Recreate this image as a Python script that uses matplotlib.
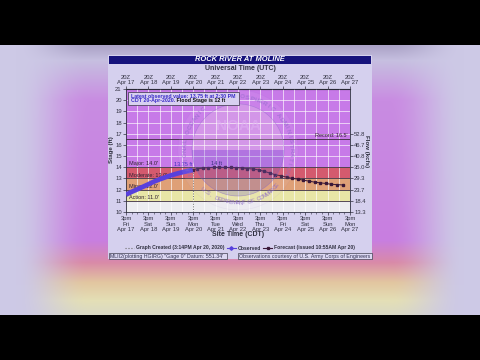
import numpy as np
import matplotlib
matplotlib.use("Agg")
import matplotlib.pyplot as plt
from matplotlib.patches import Rectangle, Circle, Wedge
from matplotlib.lines import Line2D
from matplotlib.colors import to_rgb

plt.rcParams['font.family'] = ['Liberation Sans', 'DejaVu Sans']
NARROW = ['Liberation Sans Narrow', 'Liberation Sans', 'DejaVu Sans']

# ---- data (x = days after 3pm CDT Fri Apr 17) ----
obs_days = [0.0, 0.25, 0.5, 0.75, 1.0, 1.25, 1.5, 1.75, 2.0, 2.25, 2.5, 2.75, 2.98]
obs_stage = [11.55, 11.8, 12.02, 12.25, 12.48, 12.72, 12.92, 13.1, 13.27, 13.42, 13.55, 13.66, 13.75]

fcst_days = [2.98, 3.17, 3.42, 3.67, 3.92, 4.17, 4.42, 4.67, 4.92, 5.17, 5.42, 5.67,
             5.92, 6.17, 6.42, 6.67, 6.92, 7.17, 7.42, 7.67, 7.92, 8.17, 8.42, 8.67,
             8.92, 9.17, 9.42, 9.67]
fcst_stage = [13.78, 13.86, 13.92, 13.97, 14.0, 14.0, 13.99, 13.98, 13.97, 13.94, 13.88, 13.85,
              13.76, 13.64, 13.48, 13.33, 13.24, 13.12, 13.0, 12.94, 12.85, 12.76, 12.67, 12.61,
              12.55, 12.48, 12.45, 12.42]

day_names = ["Fri", "Sat", "Sun", "Mon", "Tue", "Wed", "Thu", "Fri", "Sat", "Sun", "Mon"]
dates = ["Apr 17", "Apr 18", "Apr 19", "Apr 20", "Apr 21", "Apr 22",
         "Apr 23", "Apr 24", "Apr 25", "Apr 26", "Apr 27"]
stage_ticks = list(range(10, 22))
flow_at = [10, 11, 12, 13, 14, 15, 16, 17]
flow_labels = ["13.3", "18.4", "23.7", "29.3", "35.0", "40.8", "46.7", "52.8"]

flood_names = ["Action", "Minor", "Moderate", "Major"]
flood_stage = [11.0, 12.0, 13.0, 14.0]
record_stage = 16.5
latest_obs = 13.75
crest = 14.0
crest_day = 4.05
created_day = 3.01

band_colors = ['#ececf0', '#e8e6a6', '#dfa077', '#d45a6e', '#c77ae8']

W, H = 480, 360
fig = plt.figure(figsize=(4.8, 3.6), dpi=100)

# ---- video frame background ----
stops_y = [45, 60, 100, 240, 262, 282, 300, 315]
stops_c = ['#aaa2c6', '#c6bfe0', '#c98ce2', '#c87ee0', '#d98aa8', '#e2c6a0', '#e4dfb6', '#d9d9c6']
rows = np.arange(H)
center = np.stack([np.interp(rows, stops_y, [to_rgb(c)[k] for c in stops_c]) for k in range(3)], axis=-1)
cols = np.arange(W)
d = np.minimum(cols, W - 1 - cols)
e = np.clip(1 - (d - 15) / 75.0, 0, 1)
e = e * e * (3 - 2 * e)
edge = np.array(to_rgb('#cdc9e6'))
img = center[:, None, :] * (1 - e[None, :, None]) + edge[None, None, :] * e[None, :, None]
img[:45] = 0
img[315:] = 0

bg = fig.add_axes([0, 0, 1, 1], zorder=0)
bg.imshow(img, extent=(0, W, H, 0), aspect='auto')
bg.set_xlim(0, W)
bg.set_ylim(H, 0)
bg.axis('off')

# panel + title bar
bg.add_patch(Rectangle((108, 55), 264, 204, facecolor='#d5d0ee', edgecolor='none'))
bg.add_patch(Rectangle((109, 55.5), 262, 8, facecolor='#16127c', edgecolor='none'))
bg.text(240, 59.8, "ROCK RIVER AT MOLINE", color='white', fontsize=5.4, fontweight='bold',
        fontstyle='italic', ha='center', va='center')
bg.text(240, 69, "Universal Time (UTC)", color='#303040', fontsize=5.0, fontweight='bold',
        ha='center', va='center')
bg.text(238, 235, "Site Time (CDT)", color='#303040', fontsize=5.0, fontweight='bold',
        ha='center', va='center')
bg.text(112, 150, "Stage (ft)", color='#303040', fontsize=4.4, fontweight='bold',
        ha='center', va='center', rotation=90)
bg.text(367, 151, "Flow (kcfs)", color='#303040', fontsize=4.4, fontweight='bold',
        ha='center', va='center', rotation=270)

# footer boxes
bg.add_patch(Rectangle((108.5, 253), 118, 6, facecolor='#dcd8f2', edgecolor='#404050', lw=0.5))
bg.add_patch(Rectangle((238, 253), 133.5, 6, facecolor='#dcd8f2', edgecolor='#404050', lw=0.5))
bg.text(110, 256.2, "MLII2(plotting HGIRG) \"Gage 0\" Datum: 551.34'", color='#303050',
        fontsize=3.8, family=NARROW, ha='left', va='center')
bg.text(304.5, 256.2, "Observations courtesy of U.S. Army Corps of Engineers", color='#303050',
        fontsize=3.8, family=NARROW, ha='center', va='center')

# ---- hydrograph axes ----
ax = fig.add_axes([126 / W, 1 - 212 / H, 224 / W, 123 / H], zorder=1)
ax.set_xlim(0, 10)
ax.set_ylim(10, 21)
lows = [10] + flood_stage
highs = flood_stage + [21]
for lo, hi, c in zip(lows, highs, band_colors):
    ax.axhspan(lo, hi, color=c, lw=0, zorder=0)

for x in np.arange(0.5, 10, 0.5):
    ax.axvline(x, color='white', lw=0.6, alpha=0.75, zorder=1)
for y in stage_ticks[1:-1]:
    ax.axhline(y, color='white', lw=0.6, alpha=0.75, zorder=1)

for name, s in zip(flood_names, flood_stage):
    ax.axhline(s, color='#3a2a3a', lw=0.6, zorder=2)
    ax.text(0.12, s + 0.08, "%s: %.1f'" % (name, s), fontsize=4.0, family=NARROW,
            color='#302030', ha='left', va='bottom', zorder=3)
ax.axhline(record_stage, color='#3a2a3a', lw=0.6, zorder=2)
ax.text(9.9, record_stage + 0.08, "Record: %.1f'" % record_stage, fontsize=4.0, family=NARROW,
        color='#302030', ha='right', va='bottom', zorder=3)

ax.plot([created_day, created_day], [10, 14], color='#707070', ls=':', lw=0.7, zorder=2)
ax.plot(fcst_days, fcst_stage, color='#3a1838', lw=0.7, marker='s', ms=1.6, zorder=4)
ax.plot(obs_days, obs_stage, color='#5840dc', lw=3.4, solid_capstyle='butt', zorder=5)
ax.text(crest_day, crest + 0.12, "%d ft" % crest, fontsize=4.0, family=NARROW, color='#201860',
        ha='center', va='bottom', zorder=6)
ax.text(2.55, latest_obs + 0.3, "%.2f ft" % latest_obs, fontsize=4.0, family=NARROW,
        color='#3c2cc0', ha='center', va='bottom', zorder=6)

ax.set_xticks(range(11))
ax.set_xticklabels(["3pm\n%s\n%s" % (dn, dt) for dn, dt in zip(day_names, dates)],
                   linespacing=1.1)
ax.set_xticks(np.arange(0, 10, 0.25), minor=True)
ax.set_yticks(stage_ticks)
ax.tick_params(labelsize=4.2, length=2, width=0.5, pad=1, colors='#303040')
ax.tick_params(which='minor', length=1.2, width=0.4, colors='#303040')
for sp in ax.spines.values():
    sp.set_color('#303040')
    sp.set_linewidth(0.6)

top = ax.secondary_xaxis('top')
top.set_xticks(range(11))
top.set_xticklabels(["20Z\n%s" % dt for dt in dates], linespacing=1.0)
top.tick_params(labelsize=4.2, length=2, width=0.5, pad=1, colors='#303040')

ax2 = ax.twinx()
ax2.set_ylim(10, 21)
ax2.set_yticks(flow_at)
ax2.set_yticklabels(flow_labels)
ax2.tick_params(labelsize=4.2, length=2, width=0.5, pad=1, colors='#303040')
for sp in ax2.spines.values():
    sp.set_visible(False)

# legend
handles = [Line2D([], [], color='#707070', ls=':', lw=0.8),
           Line2D([], [], color='#5840dc', lw=0.8, marker='D', ms=1.8),
           Line2D([], [], color='#3a1838', lw=0.8, marker='s', ms=1.4)]
labels = ["Graph Created (3:14PM Apr 20, 2020)", "Observed", "Forecast (issued 10:55AM Apr 20)"]
leg = fig.legend(handles, labels, loc='center', bbox_to_anchor=(240 / W, 1 - 248 / H), ncol=3,
                 prop={'family': NARROW, 'size': 3.6, 'weight': 'bold'}, frameon=False,
                 handlelength=1.8, columnspacing=0.5, handletextpad=0.3)
for t in leg.get_texts():
    t.set_color('#303040')

# ---- NOAA watermark ----
ov = fig.add_axes([0, 0, 1, 1], zorder=3)
ov.set_xlim(0, W)
ov.set_ylim(H, 0)
ov.axis('off')
ov.patch.set_alpha(0)
cx, cy = 238, 150
box_x0, box_y0, box_w, box_h = 127.5, 92, 111, 13
ov.add_patch(Circle((cx, cy), 60, facecolor='#f0d8ff', alpha=0.08, edgecolor='#8a68c8', lw=0.5))
ov.add_patch(Circle((cx, cy), 46, facecolor='none', edgecolor='#8a68c8', alpha=0.5, lw=0.5))
ov.add_patch(Wedge((cx, cy), 46, 180, 360, facecolor='#fff8e8', alpha=0.18, lw=0))
ov.add_patch(Wedge((cx, cy), 46, 0, 180, facecolor='#5a48c0', alpha=0.22, lw=0))
ov.text(cx, 126, "NOAA", fontsize=11, fontweight='bold', color='#e0b0f4', alpha=0.55,
        ha='center', va='center')


def ring_text(s, a0, a1, r, top_arc):
    for ch, a in zip(s, np.linspace(a0, a1, len(s))):
        t = np.deg2rad(a)
        px, py = cx + r * np.cos(t), cy - r * np.sin(t)
        # letters under the info box are hidden anyway
        if box_x0 - 3 < px < box_x0 + box_w + 3 and box_y0 - 3 < py < box_y0 + box_h + 3:
            continue
        rot = a - 90 if top_arc else a + 90
        ov.text(px, py, ch, fontsize=4.5, fontweight='bold',
                color='#8a68c8', alpha=0.55, ha='center', va='center', rotation=rot)


ring_text("NATIONAL OCEANIC AND ATMOSPHERIC ADMINISTRATION", 205, -25, 53, True)
ring_text("U.S. DEPARTMENT OF COMMERCE", 228, 318, 53, False)

# info box (drawn above the watermark)
ov.add_patch(Rectangle((box_x0, box_y0), box_w, box_h, facecolor='#d8d0f0', edgecolor='#504860',
                       lw=0.6, zorder=8))
ov.text(131, 96, "Latest observed value: %.2f ft at 2:30 PM" % latest_obs, fontsize=3.8,
        family=NARROW, fontweight='bold', color='#3a2cc8', ha='left', va='center', zorder=9)
line2 = ov.text(131, 100.6, "CDT 20-Apr-2020.", fontsize=3.8, family=NARROW,
                fontweight='bold', color='#3a2cc8', ha='left', va='center', zorder=9)
ov.annotate(" Flood Stage is 12 ft", xy=(1, 0.5), xycoords=line2, fontsize=3.8, family=NARROW,
            fontweight='bold', color='#101010', ha='left', va='center', zorder=9)

fig.savefig("out.png", dpi=100)
